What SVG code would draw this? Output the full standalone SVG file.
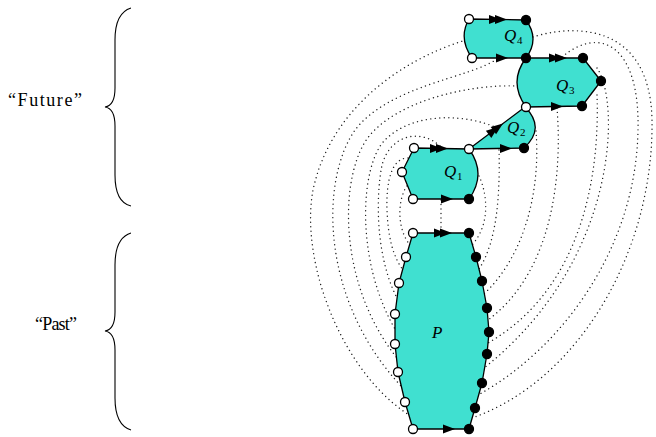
<svg xmlns="http://www.w3.org/2000/svg" xmlns:xlink="http://www.w3.org/1999/xlink" width="656" height="437" viewBox="0 0 656 437">
<style>
.face{fill:#40E0D0;stroke:#000;stroke-width:1.3;stroke-linejoin:round}
.dot{fill:none;stroke:#222;stroke-width:1.4;stroke-dasharray:0.01 4.5;stroke-linecap:round}
.w{fill:#fff;stroke:#000;stroke-width:1.3}
.b{fill:#000;stroke:#000;stroke-width:1.3}
.lab{font-family:"Liberation Serif","DejaVu Serif",serif;font-style:italic;font-size:17px;fill:#000}
.sub{font-family:"Liberation Serif","DejaVu Serif",serif;font-size:11px;fill:#000}
.txt{font-family:"Liberation Serif","DejaVu Serif",serif;font-size:18px;fill:#000}
.brace{fill:none;stroke:#000;stroke-width:1.1}
</style>
<defs>
<path id="arr" d="M-12,-4.5 L0,0 L-12,4.5 Z" fill="#000"/>
</defs>
<g id="connectors">
<path class="dot" d="M466,40 C400,60 330,110 313,190 C300,260 340,370 409,415"/>
<path class="dot" d="M497,59 C470,78 390,85 355,130 C320,180 320,300 402,387"/>
<path class="dot" d="M518,86 C470,84 400,100 370,135 C340,170 335,280 397,358"/>
<path class="dot" d="M497,128 C470,115 415,110 385,140 C360,165 355,260 395,329"/>
<path class="dot" d="M440,146 C420,128 390,135 382,165 C376,195 375,255 397,298"/>
<path class="dot" d="M408,158 C392,158 386,180 387,210 C388,235 392,255 403,270"/>
<path class="dot" d="M407,186 C398,198 396,228 410,245"/>
<path class="dot" d="M441,200 L441,233"/>
<path class="dot" d="M479,176 C488,195 490,225 472,245"/>
<path class="dot" d="M499,150 C500,190 498,240 479,269"/>
<path class="dot" d="M536,131 C540,180 530,250 484,294"/>
<path class="dot" d="M557,108 C562,170 555,270 488,320"/>
<path class="dot" d="M597,95 C600,180 580,290 488,343"/>
<path class="dot" d="M597,68 C620,100 620,260 484,368"/>
<path class="dot" d="M562,57 C600,25 640,45 638,130 C636,250 560,350 478,395"/>
<path class="dot" d="M533,37 C570,25 650,20 652,120 C654,250 580,380 472,418"/>
</g>
<g id="future-brace">
<path class="brace" d="M131,8 C118,12 115,25 115,40 L115,88 C115,100 112,106 105,107 C112,108 115,114 115,126 L115,175 C115,190 118,203 131,206"/>
<text class="txt" x="8" y="106" textLength="74" lengthAdjust="spacing">“Future”</text>
</g>
<g id="past-brace">
<path class="brace" d="M131,233 C118,237 115,250 115,265 L115,312 C115,324 112,330 105,331 C112,332 115,338 115,350 L115,398 C115,413 118,426 131,430"/>
<text class="txt" x="35" y="330" textLength="42" lengthAdjust="spacing">“Past”</text>
</g>
<g id="Q4">
<path class="face" d="M469,19 L526,20 Q540,39 526,58 L472,58 Q458,38 469,19 Z"/>
<use xlink:href="#arr" transform="translate(501,19.5)"/>
<use xlink:href="#arr" transform="translate(507,19.5)"/>
<use xlink:href="#arr" transform="translate(508,58)"/>
<text class="lab" x="504" y="41">Q</text><text class="sub" x="517" y="44">4</text>
</g>
<g id="Q3">
<path class="face" d="M526,58 L583,58 L601,81 L582,106 L526,107 Q508,82 526,58 Z"/>
<use xlink:href="#arr" transform="translate(561,58)"/>
<use xlink:href="#arr" transform="translate(567,58)"/>
<use xlink:href="#arr" transform="translate(563,106.5)"/>
<text class="lab" x="556" y="91">Q</text><text class="sub" x="569" y="94">3</text>
</g>
<g id="Q2">
<path class="face" d="M469,149 L525,107 Q546,128 524,148 Z"/>
<use xlink:href="#arr" transform="translate(498.2,127.1) rotate(-36.87)"/>
<use xlink:href="#arr" transform="translate(503,123.5) rotate(-36.87)"/>
<use xlink:href="#arr" transform="translate(512,148.5)"/>
<text class="lab" x="507" y="133">Q</text><text class="sub" x="520" y="136">2</text>
</g>
<g id="Q1">
<path class="face" d="M414,148 L469,149 Q487,174 469,199 L413,199 L402,172 Z"/>
<use xlink:href="#arr" transform="translate(442,148.5)"/>
<use xlink:href="#arr" transform="translate(448,148.5)"/>
<use xlink:href="#arr" transform="translate(453,199)"/>
<text class="lab" x="444" y="177">Q</text><text class="sub" x="457" y="180">1</text>
</g>
<g id="P">
<path class="face" d="M413,233 L469,233 L476,257 L482,281 L487,308 L489,332 L487,354 L482,383 L475,408 L469,429 L413,429 L405,402 L398,372 L395,344 L395,314 L399,283 L406,257 Z"/>
<use xlink:href="#arr" transform="translate(446,233)"/>
<use xlink:href="#arr" transform="translate(452,233)"/>
<use xlink:href="#arr" transform="translate(455,429)"/>
<text class="lab" x="432" y="338">P</text>
</g>
<g id="vertices">
<circle class="w" cx="469" cy="19" r="4.5"/>
<circle class="w" cx="472" cy="58" r="4.5"/>
<circle class="b" cx="526" cy="20" r="4.5"/>
<circle class="b" cx="526" cy="58" r="4.5"/>
<circle class="b" cx="583" cy="58" r="4.5"/>
<circle class="b" cx="601" cy="81" r="4.5"/>
<circle class="b" cx="582" cy="106" r="4.5"/>
<circle class="w" cx="526" cy="107" r="4.5"/>
<circle class="b" cx="524" cy="148" r="4.5"/>
<circle class="w" cx="469" cy="149" r="4.5"/>
<circle class="w" cx="414" cy="148" r="4.5"/>
<circle class="w" cx="402" cy="172" r="4.5"/>
<circle class="w" cx="413" cy="199" r="4.5"/>
<circle class="b" cx="469" cy="199" r="4.5"/>
<circle class="w" cx="413" cy="233" r="4.5"/>
<circle class="w" cx="406" cy="257" r="4.5"/>
<circle class="w" cx="399" cy="283" r="4.5"/>
<circle class="w" cx="395" cy="314" r="4.5"/>
<circle class="w" cx="395" cy="344" r="4.5"/>
<circle class="w" cx="398" cy="372" r="4.5"/>
<circle class="w" cx="405" cy="402" r="4.5"/>
<circle class="w" cx="413" cy="429" r="4.5"/>
<circle class="b" cx="469" cy="233" r="4.5"/>
<circle class="b" cx="476" cy="257" r="4.5"/>
<circle class="b" cx="482" cy="281" r="4.5"/>
<circle class="b" cx="487" cy="308" r="4.5"/>
<circle class="b" cx="489" cy="332" r="4.5"/>
<circle class="b" cx="487" cy="354" r="4.5"/>
<circle class="b" cx="482" cy="383" r="4.5"/>
<circle class="b" cx="475" cy="408" r="4.5"/>
<circle class="b" cx="469" cy="429" r="4.5"/>
</g>
</svg>
